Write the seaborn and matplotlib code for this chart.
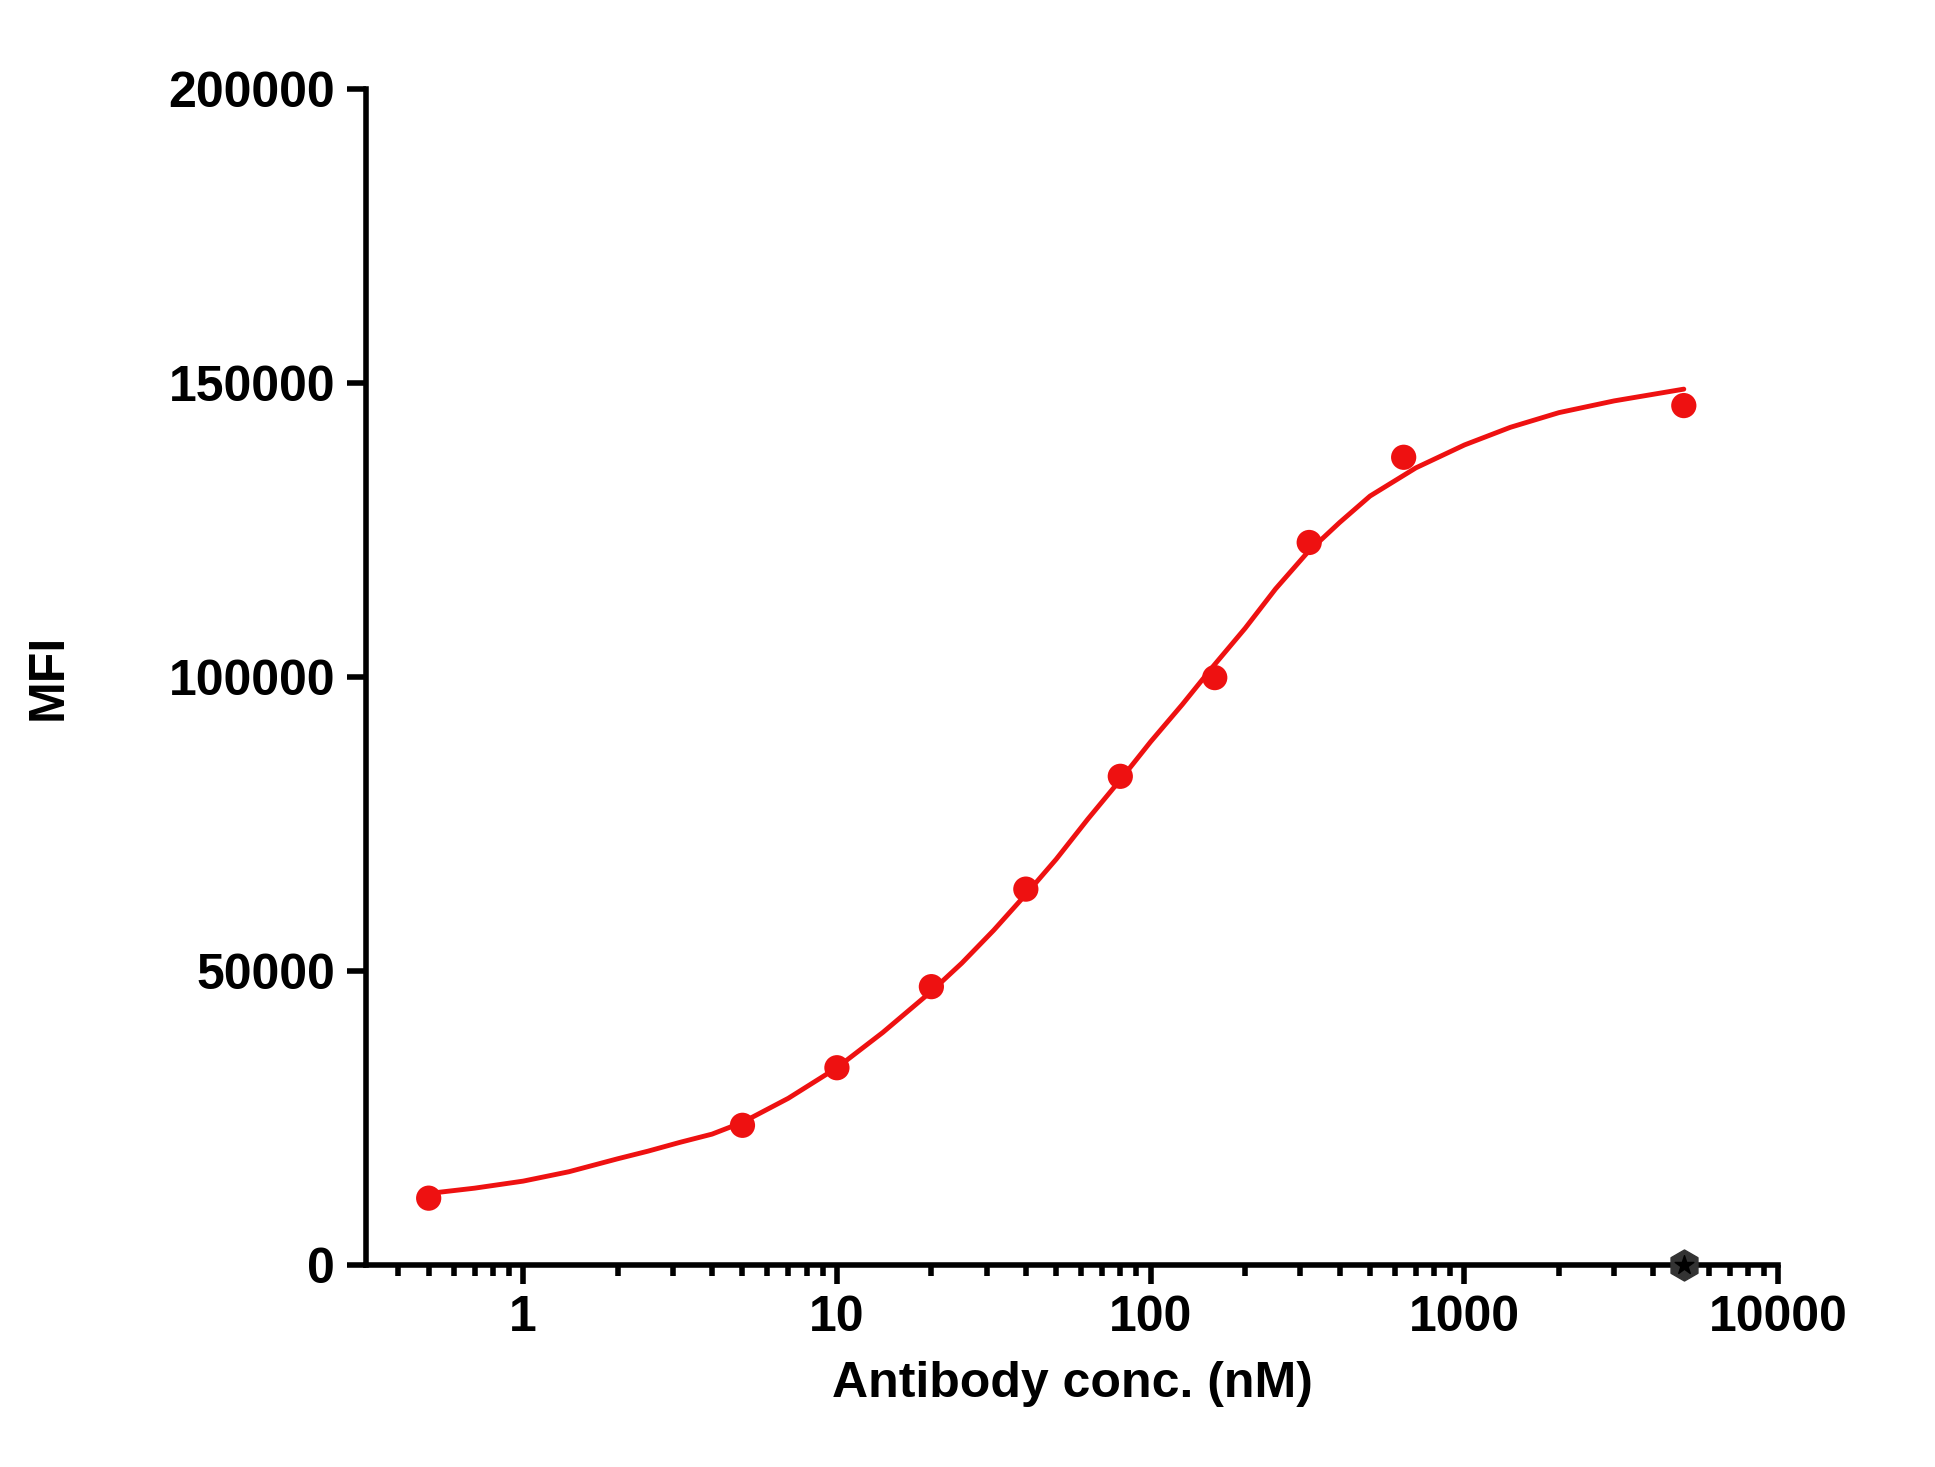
import matplotlib
matplotlib.use("Agg")
import matplotlib.pyplot as plt
import seaborn as sns
import pandas as pd
from matplotlib.ticker import LogLocator, NullFormatter, FixedLocator

# measured points
conc = [0.5, 5, 10, 20, 40, 80, 160, 320, 640, 5000]
mfi = [11300, 23700, 33500, 47300, 63900, 83100, 99900, 122900, 137400, 146200]

# fitted curve
curve_x = [0.5, 0.7, 1, 1.4, 2, 2.5, 3.16, 4, 5, 7, 10, 14, 20, 25, 31.6, 40, 50, 63, 80,
           100, 126, 158, 200, 250, 316, 400, 500, 700, 1000, 1400, 2000, 3000, 5000]
curve_y = [12100, 13000, 14200, 15800, 18000, 19300, 20800, 22200, 24200, 28300, 33500,
           39500, 46500, 51300, 56900, 63000, 69000, 75800, 82500, 89000, 95300, 101800,
           108300, 115000, 121200, 126300, 130800, 135600, 139500, 142500, 145000, 147000, 149000]

# control point on the baseline
ctrl_x = [5000]
ctrl_y = [0]

sns.set_style("ticks")
plt.rcParams['font.family'] = ['Liberation Sans', 'DejaVu Sans']
plt.rcParams['font.weight'] = 'bold'
plt.rcParams['text.color'] = 'black'
plt.rcParams['axes.labelcolor'] = 'black'
plt.rcParams['xtick.color'] = 'black'
plt.rcParams['ytick.color'] = 'black'
plt.rcParams['axes.edgecolor'] = 'black'

fig = plt.figure(figsize=(19.35, 14.67), dpi=100)
ax = fig.add_axes([0.189, 0.138, 0.73, 0.801])

sns.lineplot(data=pd.DataFrame({'x': curve_x, 'y': curve_y}), x='x', y='y',
             ax=ax, color='#ee1111', linewidth=3.5, zorder=3)
sns.scatterplot(data=pd.DataFrame({'x': conc, 'y': mfi}), x='x', y='y', ax=ax,
                color='#ee1111', s=330, edgecolor='none', zorder=4)
ax.scatter(ctrl_x, ctrl_y, marker='h', s=500, color='#333333', zorder=5, clip_on=False)
ax.scatter(ctrl_x, ctrl_y, marker='*', s=200, color='black', zorder=6, clip_on=False)

ax.set_xscale('log')
ax.set_xlim(0.315, 10000)
ax.set_ylim(0, 200000)
ax.xaxis.set_major_locator(FixedLocator([1, 10, 100, 1000, 10000]))
ax.xaxis.set_minor_locator(LogLocator(base=10, subs=range(2, 10), numticks=20))
ax.xaxis.set_minor_formatter(NullFormatter())
ax.set_xticklabels(['1', '10', '100', '1000', '10000'])
ax.set_yticks([0, 50000, 100000, 150000, 200000])
ax.set_yticklabels(['0', '50000', '100000', '150000', '200000'])

for s in ['top', 'right']:
    ax.spines[s].set_visible(False)
for s in ['left', 'bottom']:
    ax.spines[s].set_linewidth(4)
ax.tick_params(axis='both', which='major', width=4, length=14, labelsize=36, pad=8)
ax.tick_params(axis='x', which='minor', width=4, length=8)

ax.set_xlabel('Antibody conc. (nM)', fontsize=36, fontweight='bold', labelpad=14)
ax.set_ylabel('MFI', fontsize=36, fontweight='bold', labelpad=70)

fig.savefig('out.png', dpi=100)
